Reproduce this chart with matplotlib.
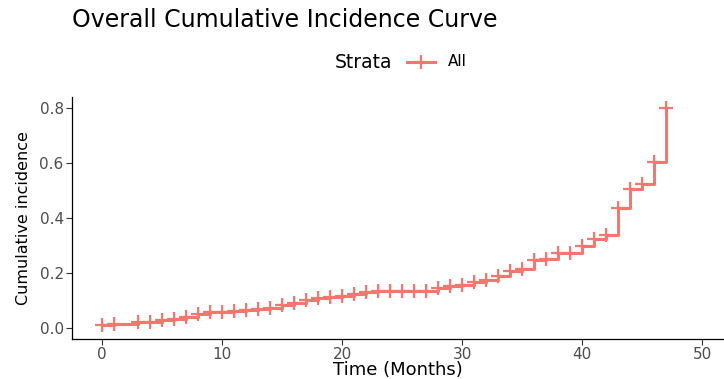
import matplotlib
matplotlib.use("Agg")
import matplotlib.pyplot as plt
from matplotlib.lines import Line2D

plt.rcParams['font.family'] = ['DejaVu Sans']

# Follow-up time (months) and cumulative incidence at each time point
months = [0, 1, 3, 4, 5, 6, 7, 8, 9, 10, 11, 12, 13, 14, 15, 16, 17, 18, 19,
          20, 21, 22, 23, 24, 25, 26, 27, 28, 29, 30, 31, 32, 33, 34, 35, 36,
          37, 38, 39, 40, 41, 42, 43, 44, 45, 46, 47]
incidence = [0.010, 0.016, 0.023, 0.023, 0.028, 0.034, 0.040, 0.050, 0.058,
             0.058, 0.062, 0.065, 0.068, 0.074, 0.084, 0.091, 0.101, 0.110,
             0.113, 0.117, 0.125, 0.131, 0.133, 0.133, 0.135, 0.135, 0.135,
             0.144, 0.153, 0.157, 0.166, 0.173, 0.190, 0.208, 0.214, 0.247,
             0.250, 0.271, 0.271, 0.300, 0.324, 0.340, 0.437, 0.504, 0.522,
             0.604, 0.800]

x_ticks = [0, 10, 20, 30, 40, 50]
y_ticks = [0.0, 0.2, 0.4, 0.6, 0.8]
y_tick_labels = ["0.0", "0.2", "0.4", "0.6", "0.8"]
strata = "All"

color = "#F8766D"
grey = "#4D4D4D"

W, H = 724, 379
fig = plt.figure(figsize=(W / 100, H / 100), dpi=100)
ax = fig.add_axes([72 / W, (H - 339) / H, (W - 72) / W, (339 - 97) / H])

ax.step(months, incidence, where="post", color=color, lw=2.2, zorder=2)
ax.plot(months, incidence, ls="none", marker="+", ms=10, mew=1.6,
        color=color, zorder=3)

ax.set_xlim(-2.5, 51.8)
ax.set_ylim(-0.04, 0.84)
ax.set_xticks(x_ticks)
ax.set_yticks(y_ticks)
ax.set_yticklabels(y_tick_labels)

for side in ("top", "right"):
    ax.spines[side].set_visible(False)
for side in ("left", "bottom"):
    ax.spines[side].set_color("black")
    ax.spines[side].set_linewidth(0.9)

ax.tick_params(axis="both", direction="out", length=4, width=0.8,
               color="#333333", labelcolor=grey, labelsize=11, pad=2)

ax.set_xlabel("Time (Months)", fontsize=13, color="black", labelpad=-1)
ax.set_ylabel("Cumulative incidence", fontsize=11.5, color="black", labelpad=6)

fig.text(72 / W, 1 - 20 / H, "Overall Cumulative Incidence Curve",
         fontsize=17, color="black", ha="left", va="center")

# Horizontal legend: title, key, label
fig.text(335 / W, 1 - 62 / H, "Strata", fontsize=13.5, color="black",
         ha="left", va="center")
key = Line2D([407 / W, 435 / W], [1 - 62 / H, 1 - 62 / H],
             transform=fig.transFigure, color=color, lw=2.2)
key_mark = Line2D([421 / W], [1 - 62 / H], transform=fig.transFigure,
                  color=color, marker="+", ms=10, mew=1.6, ls="none")
fig.add_artist(key)
fig.add_artist(key_mark)
fig.text(448 / W, 1 - 62 / H, strata, fontsize=11, color="black",
         ha="left", va="center")

fig.savefig("out.png", dpi=100)
